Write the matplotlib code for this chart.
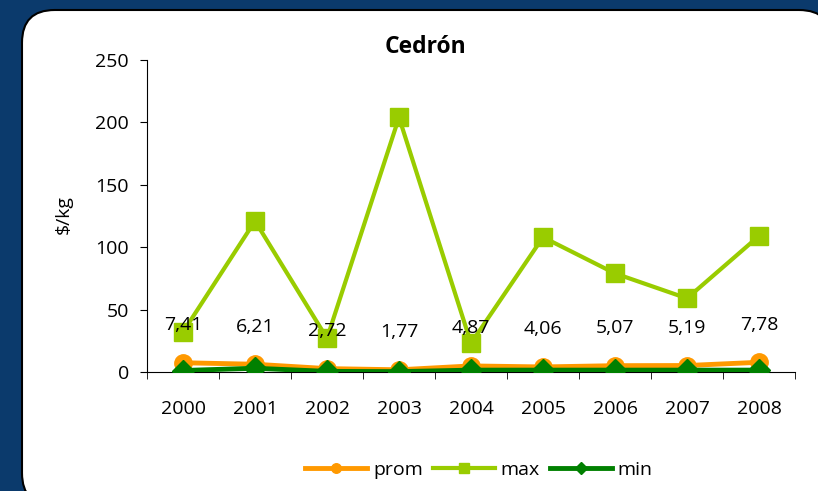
import matplotlib
matplotlib.use("Agg")
import matplotlib.pyplot as plt
from matplotlib.patches import FancyBboxPatch

plt.rcParams['font.family'] = ['Open Sans', 'DejaVu Sans']

# datos
years = ['2000', '2001', '2002', '2003', '2004', '2005', '2006', '2007', '2008']
prom = [7.41, 6.21, 2.72, 1.77, 4.87, 4.06, 5.07, 5.19, 7.78]
maxv = [32, 121, 27, 204, 23, 108, 79, 59, 109]
minv = [1.2, 3.0, 0.5, 0.3, 1.5, 1.5, 1.5, 1.5, 1.5]
prom_labels = ['7,41', '6,21', '2,72', '1,77', '4,87', '4,06', '5,07', '5,19', '7,78']

fs = 14

fig = plt.figure(figsize=(8.18, 4.91), dpi=100)
fig.patch.set_facecolor('#0b3a6c')

# white rounded panel
panel = FancyBboxPatch((22/818, -0.03), 0.99, 1.0 - 10/491 + 0.03,
                       boxstyle="round,pad=0,rounding_size=0.04",
                       transform=fig.transFigure, facecolor='white',
                       edgecolor='black', linewidth=1.5, zorder=-10,
                       mutation_aspect=818/491)
fig.patches.append(panel)

ax = fig.add_axes([147/818, 1 - 372/491, (795 - 147)/818, (372 - 60)/491])
ax.set_zorder(1)
ax.set_facecolor('none')
x = list(range(len(years)))

ax.plot(x, prom, color='#ff9900', lw=3.5, marker='o', ms=12.5, label='prom', zorder=3)
ax.plot(x, maxv, color='#99cc00', lw=3, marker='s', ms=13, label='max', zorder=3)
ax.plot(x, minv, color='#008000', lw=3.5, marker='D', ms=11.5, label='min', zorder=4)

for i, lab in enumerate(prom_labels):
    ax.annotate(lab, (x[i], prom[i]), xytext=(0, 27), textcoords='offset points',
                ha='center', va='center', fontsize=fs, color='black', zorder=5)

ax.set_ylim(0, 250)
ax.set_yticks(range(0, 251, 50))
ax.set_xlim(-0.5, len(years) - 0.5)
ax.set_xticks(x)
ax.set_xticklabels(years)
ax.set_xticks([i - 0.5 for i in range(len(years) + 1)], minor=True)
ax.tick_params(axis='x', which='major', length=0, pad=20, labelsize=fs)
ax.tick_params(axis='x', which='minor', length=5, direction='out')
ax.tick_params(axis='y', length=5, direction='out', pad=8, labelsize=fs)
for s in ['top', 'right']:
    ax.spines[s].set_visible(False)
ax.spines['left'].set_color('black')
ax.spines['bottom'].set_color('black')

fig.text(425/818, 1 - 47/491, 'Cedrón', ha='center', va='center',
         fontsize=16.5, fontweight='bold')
fig.text(64/818, 1 - 215/491, '$/kg', ha='center', va='center',
         rotation=90, fontsize=fs)

fig.legend(loc='center', bbox_to_anchor=(479/818, 1 - 470/491), ncol=3,
           frameon=False, fontsize=fs, handlelength=3.2, handletextpad=0.3,
           columnspacing=0.5, markerscale=0.55)

fig.savefig('out.png', dpi=100, facecolor=fig.get_facecolor())
